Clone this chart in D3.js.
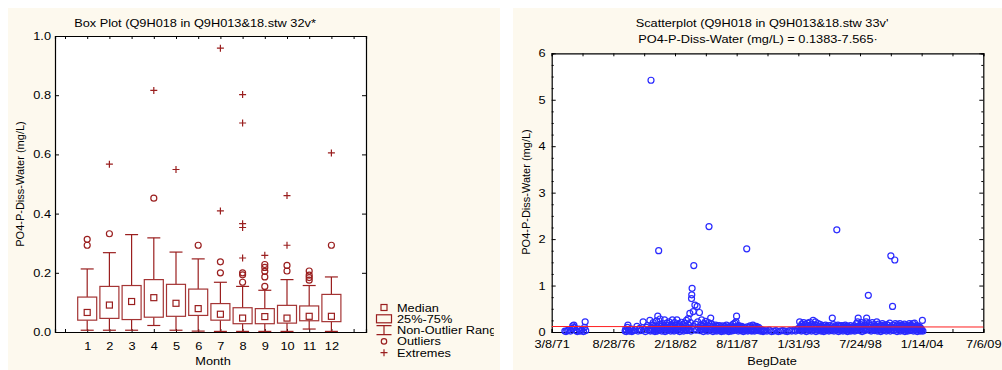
<!DOCTYPE html>
<html><head><meta charset="utf-8">
<script src="https://cdn.jsdelivr.net/npm/d3@7"></script>
<style>
html,body{margin:0;padding:0;background:#fff;}
svg{display:block;font-family:"Liberation Sans",Arial,sans-serif;}
</style></head><body>
<svg id="chart" width="1002" height="370"></svg>
<script>
// ---- Box plot: PO4-P dissolved (mg/L) by month ----
const months   = [1, 2, 3, 4, 5, 6, 7, 8, 9, 10, 11, 12];
const whiskLo  = [0.006, 0.006, 0.006, 0.022, 0.006, 0.003, 0.002, 0.002, 0.002, 0.002, 0.010, 0.002];
const q1       = [0.040, 0.046, 0.042, 0.050, 0.053, 0.056, 0.040, 0.028, 0.028, 0.030, 0.038, 0.035];
const medians  = [0.066, 0.091, 0.103, 0.116, 0.097, 0.079, 0.060, 0.047, 0.052, 0.047, 0.053, 0.053];
const q3       = [0.118, 0.154, 0.157, 0.177, 0.161, 0.145, 0.096, 0.082, 0.079, 0.090, 0.088, 0.127];
const whiskHi  = [0.213, 0.268, 0.329, 0.318, 0.270, 0.247, 0.168, 0.154, 0.141, 0.177, 0.157, 0.186];
const outliers = [[0.313, 0.293], [0.332], [], [0.452], [], [0.293], [0.237, 0.200],
                  [0.200, 0.193, 0.168], [0.228, 0.218, 0.205, 0.186, 0.154], [0.225, 0.206],
                  [0.206, 0.192, 0.184, 0.175], [0.293]];
const extremes = [[], [0.567], [], [0.816], [0.549], [], [0.409, 0.959],
                  [0.250, 0.366, 0.353, 0.802, 0.706], [0.259], [0.293, 0.461], [], [0.605]];
const boxYTicks = [0, 0.2, 0.4, 0.6, 0.8, 1.0];
const legendItems = ["Median", "25%-75%", "Non-Outlier Range", "Outliers", "Extremes"];

// ---- Scatterplot: PO4-P dissolved (mg/L) by sample date (decimal year, value) ----
const samples1970s = [
  [1972.35,0.02],[1972.45,0.01],[1972.6,0.03],[1972.7,0.05],[1972.85,0.02],[1973.0,0.08],[1973.05,0.13],
  [1973.15,0.15],[1973.2,0.10],[1973.35,0.03],[1973.45,0.01],[1973.6,0.06],[1973.7,0.02],[1973.85,0.04],
  [1974.0,0.01],[1974.1,0.10],[1974.15,0.22],[1974.2,0.03],
  [1977.7,0.02],[1977.75,0.06],[1977.8,0.01],[1977.9,0.10],[1977.95,0.15],[1978.0,0.04],[1978.1,0.02],
  [1978.2,0.07],[1978.3,0.01],[1978.45,0.03],[1978.6,0.05],[1978.75,0.12],[1978.85,0.02],[1979.0,0.08],
  [1979.1,0.03],[1979.3,0.22],[1979.4,0.05],[1979.5,0.01],[1979.6,0.10],[1979.7,0.14],[1979.8,0.04],
  [1979.9,0.25],[1979.95,0.02]
];
const samples1980s = [
  [1980.0,5.42],[1980.05,0.08],[1980.1,0.15],[1980.15,0.03],[1980.2,0.20],[1980.25,0.11],[1980.3,0.05],
  [1980.35,0.01],[1980.4,0.13],[1980.45,0.07],[1980.5,0.24],[1980.55,0.02],[1980.6,0.34],[1980.65,0.09],
  [1980.68,1.75],[1980.7,0.04],[1980.75,0.16],[1980.8,0.28],[1980.85,0.06],[1980.9,0.12],[1980.95,0.02],
  [1981.0,0.18],[1981.05,0.08],[1981.1,0.04],[1981.15,0.13],[1981.2,0.26],[1981.25,0.01],[1981.3,0.10],
  [1981.35,0.06],[1981.4,0.19],[1981.45,0.03],[1981.5,0.14],[1981.55,0.08],[1981.6,0.22],[1981.65,0.05],
  [1981.7,0.11],[1981.75,0.02],[1981.8,0.16],[1981.85,0.07],[1981.9,0.26],[1981.95,0.04],
  [1982.0,0.12],[1982.05,0.02],[1982.1,0.20],[1982.15,0.09],[1982.2,0.05],[1982.25,0.15],[1982.3,0.26],
  [1982.35,0.03],[1982.4,0.11],[1982.45,0.07],[1982.5,0.18],[1982.55,0.01],[1982.6,0.13],[1982.65,0.06],
  [1982.7,0.21],[1982.75,0.04],[1982.8,0.10],[1982.85,0.16],[1982.9,0.02],[1982.95,0.08],
  [1983.0,0.19],[1983.05,0.05],[1983.1,0.12],[1983.15,0.25],[1983.2,0.03],[1983.25,0.09],[1983.3,0.29],
  [1983.35,0.15],[1983.4,0.06],[1983.45,0.40],[1983.5,0.20],[1983.55,0.02],[1983.6,0.72],[1983.62,0.80],
  [1983.65,0.94],[1983.7,0.12],[1983.75,0.44],[1983.8,1.43],[1983.85,0.07],[1983.9,0.58],[1983.95,0.17],
  [1984.0,0.04],[1984.1,0.55],[1984.15,0.22],[1984.2,0.10],[1984.3,0.42],[1984.35,0.03],[1984.4,0.14],
  [1984.45,0.08],[1984.5,0.26],[1984.55,0.05],[1984.6,0.12],[1984.65,0.01],[1984.7,0.18],[1984.75,0.07],
  [1984.8,0.11],[1984.85,0.23],[1984.9,0.03],[1984.95,0.09],
  [1985.0,0.15],[1985.05,0.02],[1985.1,0.20],[1985.15,2.27],[1985.2,0.06],[1985.25,0.12],[1985.3,0.30],
  [1985.35,0.04],[1985.4,0.17],[1985.45,0.09],[1985.5,0.01],[1985.55,0.13],[1985.6,0.06],[1985.65,0.10],
  [1985.7,0.03],[1985.75,0.15],[1985.8,0.08],[1985.85,0.02],[1985.9,0.12],[1985.95,0.05],
  [1986.0,0.09],[1986.05,0.14],[1986.1,0.03],[1986.15,0.07],[1986.2,0.11],[1986.25,0.01],[1986.3,0.06],
  [1986.35,0.13],[1986.4,0.04],[1986.45,0.09],[1986.5,0.02],[1986.55,0.12],[1986.6,0.05],[1986.65,0.08],
  [1986.7,0.15],[1986.75,0.03],[1986.8,0.10],[1986.85,0.06],[1986.9,0.01],[1986.95,0.11],
  [1987.0,0.07],[1987.05,0.04],[1987.1,0.13],[1987.15,0.02],[1987.2,0.09],[1987.25,0.06],[1987.3,0.17],
  [1987.35,0.03],[1987.4,0.11],[1987.45,0.19],[1987.5,0.05],[1987.55,0.22],[1987.6,0.34],[1987.65,0.08],
  [1987.7,0.12],[1987.75,0.02],[1987.8,0.14],[1987.85,0.06],[1987.9,0.10],[1987.95,0.03],
  [1988.0,0.08],[1988.05,0.12],[1988.1,0.04],[1988.15,0.07],[1988.2,0.01],[1988.25,0.10],[1988.3,0.05],
  [1988.35,0.09],[1988.4,0.03],[1988.45,0.06],[1988.5,1.79],[1988.55,0.11],[1988.6,0.02],[1988.65,0.07],
  [1988.7,0.04],[1988.75,0.10],[1988.8,0.13],[1988.85,0.03],[1988.9,0.06],[1988.95,0.02],
  [1989.0,0.08],[1989.05,0.15],[1989.1,0.04],[1989.15,0.11],[1989.2,0.02],[1989.3,0.09],[1989.35,0.12],
  [1989.4,0.05],[1989.5,0.03],[1989.55,0.10],[1989.6,0.07],[1989.7,0.02],[1989.75,0.06],[1989.85,0.04],
  [1989.95,0.01]
];
const samples1990s = [
  [1990.1,0.03],[1990.3,0.02],[1990.5,0.04],[1990.7,0.01],[1990.9,0.02],[1991.1,0.03],[1991.3,0.01],
  [1991.5,0.02],[1991.7,0.03],[1991.9,0.02],[1992.1,0.01],[1992.3,0.03],[1992.5,0.02],[1992.7,0.04],
  [1992.85,0.02],[1993.0,0.05],
  [1993.1,0.08],[1993.2,0.22],[1993.25,0.04],[1993.3,0.12],[1993.35,0.02],[1993.4,0.17],[1993.45,0.06],
  [1993.5,0.10],[1993.55,0.20],[1993.6,0.03],[1993.65,0.13],[1993.7,0.07],[1993.75,0.16],[1993.8,0.01],
  [1993.85,0.11],[1993.9,0.19],[1993.95,0.05],
  [1994.0,0.14],[1994.05,0.03],[1994.1,0.21],[1994.15,0.08],[1994.2,0.12],[1994.25,0.02],[1994.3,0.17],
  [1994.35,0.06],[1994.4,0.25],[1994.45,0.10],[1994.5,0.04],[1994.55,0.15],[1994.6,0.22],[1994.65,0.01],
  [1994.7,0.09],[1994.75,0.13],[1994.8,0.05],[1994.85,0.18],[1994.9,0.03],[1994.95,0.11],
  [1995.0,0.07],[1995.05,0.16],[1995.1,0.02],[1995.15,0.12],[1995.2,0.05],[1995.25,0.09],[1995.3,0.14],
  [1995.35,0.01],[1995.4,0.10],[1995.45,0.04],[1995.5,0.15],[1995.55,0.07],[1995.6,0.03],[1995.65,0.12],
  [1995.7,0.06],[1995.75,0.10],[1995.8,0.02],[1995.85,0.14],[1995.9,0.08],[1995.95,0.04],
  [1996.0,0.11],[1996.05,0.03],[1996.1,0.30],[1996.15,0.07],[1996.2,0.16],[1996.25,0.02],[1996.3,0.10],
  [1996.35,0.05],[1996.4,0.13],[1996.45,0.08],[1996.5,2.20],[1996.55,0.04],[1996.6,0.15],[1996.65,0.01],
  [1996.7,0.09],[1996.75,0.12],[1996.8,0.06],[1996.85,0.03],[1996.9,0.14],[1996.95,0.07],
  [1997.0,0.10],[1997.05,0.02],[1997.1,0.13],[1997.15,0.05],[1997.2,0.08],[1997.25,0.15],[1997.3,0.03],
  [1997.35,0.11],[1997.4,0.06],[1997.45,0.01],[1997.5,0.12],[1997.55,0.07],[1997.6,0.04],[1997.65,0.10],
  [1997.7,0.14],[1997.75,0.02],[1997.8,0.09],[1997.85,0.05],[1997.9,0.11],[1997.95,0.03],
  [1998.0,0.08],[1998.05,0.13],[1998.1,0.02],[1998.15,0.10],[1998.2,0.06],[1998.25,0.18],[1998.3,0.04],
  [1998.35,0.22],[1998.4,0.30],[1998.45,0.09],[1998.5,0.12],[1998.55,0.03],[1998.6,0.16],[1998.65,0.07],
  [1998.7,0.20],[1998.75,0.01],[1998.8,0.11],[1998.85,0.05],[1998.9,0.14],[1998.95,0.08],
  [1999.0,0.03],[1999.05,0.15],[1999.1,0.22],[1999.15,0.30],[1999.2,0.06],[1999.25,0.12],[1999.3,0.79],
  [1999.35,0.18],[1999.4,0.04],[1999.45,0.10],[1999.5,0.14],[1999.55,0.02],[1999.6,0.08],[1999.65,0.20],
  [1999.7,0.05],[1999.75,0.11],[1999.8,0.16],[1999.85,0.03],[1999.9,0.09],[1999.95,0.13]
];
const samples2000s = [
  [2000.0,0.06],[2000.05,0.22],[2000.1,0.02],[2000.15,0.11],[2000.2,0.17],[2000.25,0.04],[2000.3,0.09],
  [2000.35,0.14],[2000.4,0.01],[2000.45,0.12],[2000.5,0.07],[2000.55,0.18],[2000.6,0.03],[2000.65,0.10],
  [2000.7,0.15],[2000.75,0.05],[2000.8,0.13],[2000.85,0.08],[2000.9,0.02],[2000.95,0.16],
  [2001.0,0.10],[2001.05,0.04],[2001.1,0.14],[2001.15,0.07],[2001.2,0.19],[2001.25,0.02],[2001.3,1.64],
  [2001.35,0.11],[2001.4,0.06],[2001.45,0.55],[2001.5,0.15],[2001.55,0.03],[2001.6,0.09],[2001.65,1.55],
  [2001.7,0.18],[2001.75,0.05],[2001.8,0.12],[2001.85,0.01],[2001.9,0.16],[2001.95,0.08],
  [2002.0,0.04],[2002.05,0.13],[2002.1,0.18],[2002.15,0.02],[2002.2,0.10],[2002.25,0.06],[2002.3,0.15],
  [2002.35,0.03],[2002.4,0.12],[2002.45,0.08],[2002.5,0.17],[2002.55,0.01],[2002.6,0.11],[2002.65,0.05],
  [2002.7,0.14],[2002.75,0.09],[2002.8,0.02],[2002.85,0.13],[2002.9,0.06],[2002.95,0.18],
  [2003.0,0.03],[2003.05,0.10],[2003.1,0.15],[2003.15,0.05],[2003.2,0.12],[2003.25,0.18],[2003.3,0.02],
  [2003.35,0.08],[2003.4,0.19],[2003.45,0.04],[2003.5,0.11],[2003.55,0.06],[2003.6,0.14],[2003.65,0.01],
  [2003.7,0.09],[2003.75,0.12],[2003.8,0.03],[2003.85,0.07],[2003.9,0.10],[2003.95,0.02],
  [2004.0,0.06],[2004.05,0.04],[2004.1,0.25],[2004.15,0.02]
];
// linear fit shown in the subtitle: value = intercept + slope * (days since 1899-12-30)
const fitIntercept = 0.1383;
const fitSlope = -7.565e-7;
const scatterYTicks = [0, 1, 2, 3, 4, 5, 6];

// ---- styling ----
const CREAM = "#fdf9ee";
const BOX_RED = "#9a1f1f";
const DOT_BLUE = "#2a2aff";
const FONT = 11;
const SX = 1.16; // horizontal text widening

const svg = d3.select("#chart");

function hText(g, x, y, str, anchor, size) {
  return g.append("text")
    .attr("transform", `translate(${x},${y}) scale(${SX},1)`)
    .attr("text-anchor", anchor || "middle")
    .attr("font-size", size || FONT)
    .attr("fill", "#000")
    .text(str);
}
function widenAxisText(axisG) {
  axisG.selectAll("text").attr("font-size", FONT).attr("fill", "#000").each(function () {
    const t = d3.select(this);
    const x = +t.attr("x") || 0, y = +t.attr("y") || 0;
    t.attr("x", null).attr("y", null)
     .attr("transform", `translate(${x},${y}) scale(${SX},1)`);
  });
  axisG.selectAll("line").attr("stroke", "#000");
  axisG.select(".domain").attr("stroke", "#000");
  axisG.attr("font-family", null);
}

// ================= Left panel: box plot =================
const L = { x0: 55, x1: 366, y0: 36, y1: 332 };
svg.append("defs").append("clipPath").attr("id", "leftClip")
  .append("rect").attr("x", 8).attr("y", 8).attr("width", 486).attr("height", 362);
const left = svg.append("g");
left.append("rect").attr("x", 8).attr("y", 8).attr("width", 492).attr("height", 362).attr("fill", CREAM);
left.append("rect").attr("x", L.x0).attr("y", L.y0).attr("width", L.x1 - L.x0).attr("height", L.y1 - L.y0).attr("fill", "#fff");

const xBox = d3.scaleLinear().domain([0, 13]).range([65, 353.6]);
const xBoxFull = d3.scaleLinear().domain([xBox.invert(L.x0), xBox.invert(L.x1)]).range([L.x0, L.x1]);
const yBox = d3.scaleLinear().domain([0, 1]).range([L.y1, L.y0]);
const monthTicks = d3.range(0, 14);

const axB = left.append("g").attr("transform", `translate(0,${L.y1})`)
  .call(d3.axisBottom(xBoxFull).tickValues(monthTicks).tickSize(-3).tickPadding(10)
    .tickFormat(d => (d >= 1 && d <= 12) ? d : ""));
widenAxisText(axB);
const axT = left.append("g").attr("transform", `translate(0,${L.y0})`)
  .call(d3.axisTop(xBoxFull).tickValues(monthTicks).tickSize(-3).tickFormat(""));
widenAxisText(axT);
const axL = left.append("g").attr("transform", `translate(${L.x0},0)`)
  .call(d3.axisLeft(yBox).tickValues(boxYTicks).tickSize(-4).tickPadding(4).tickFormat(d3.format(".1f")));
widenAxisText(axL);
const axR = left.append("g").attr("transform", `translate(${L.x1},0)`)
  .call(d3.axisRight(yBox).tickValues(boxYTicks).tickSize(-4).tickFormat(""));
widenAxisText(axR);
[axB, axT, axL, axR].forEach(a => a.select(".domain").attr("stroke-width", 1.2));

const halfBox = 9.5, halfCap = 6.5;
const boxes = left.append("g").selectAll("g").data(months).join("g");
boxes.append("line")
  .attr("x1", (m) => xBox(m)).attr("x2", (m) => xBox(m))
  .attr("y1", (m, i) => yBox(whiskLo[i])).attr("y2", (m, i) => yBox(q1[i]))
  .attr("stroke", BOX_RED).attr("stroke-width", 1.2);
boxes.append("line")
  .attr("x1", (m) => xBox(m)).attr("x2", (m) => xBox(m))
  .attr("y1", (m, i) => yBox(q3[i])).attr("y2", (m, i) => yBox(whiskHi[i]))
  .attr("stroke", BOX_RED).attr("stroke-width", 1.2);
[whiskLo, whiskHi].forEach(arr => {
  boxes.append("line")
    .attr("x1", (m) => xBox(m) - halfCap).attr("x2", (m) => xBox(m) + halfCap)
    .attr("y1", (m, i) => yBox(arr[i])).attr("y2", (m, i) => yBox(arr[i]))
    .attr("stroke", BOX_RED).attr("stroke-width", 1.2);
});
boxes.append("rect")
  .attr("x", (m) => xBox(m) - halfBox).attr("width", halfBox * 2)
  .attr("y", (m, i) => yBox(q3[i])).attr("height", (m, i) => yBox(q1[i]) - yBox(q3[i]))
  .attr("fill", "none").attr("stroke", "#a43434").attr("stroke-width", 1.2);
boxes.append("rect")
  .attr("x", (m) => xBox(m) - 3).attr("width", 6)
  .attr("y", (m, i) => yBox(medians[i]) - 3).attr("height", 6)
  .attr("fill", "none").attr("stroke", BOX_RED).attr("stroke-width", 1.2);

const outPts = months.flatMap((m, i) => outliers[i].map(v => ({ m, v })));
left.append("g").selectAll("circle").data(outPts).join("circle")
  .attr("cx", d => xBox(d.m)).attr("cy", d => yBox(d.v)).attr("r", 3)
  .attr("fill", "none").attr("stroke", BOX_RED).attr("stroke-width", 1.2);
const extPts = months.flatMap((m, i) => extremes[i].map(v => ({ m, v })));
left.append("g").selectAll("path").data(extPts).join("path")
  .attr("transform", d => `translate(${xBox(d.m)},${yBox(d.v)})`)
  .attr("d", "M-3.5,0H3.5M0,-3.5V3.5")
  .attr("fill", "none").attr("stroke", BOX_RED).attr("stroke-width", 1.2);

hText(left, 195, 27, "Box Plot (Q9H018 in Q9H013&18.stw 32v*");
hText(left, 213, 365, "Month");
left.append("text").attr("transform", `translate(24,184) rotate(-90)`)
  .attr("text-anchor", "middle").attr("font-size", FONT).text("PO4-P-Diss-Water (mg/L)");

// legend (text runs off the panel edge and is cut there)
const leg = left.append("g").attr("clip-path", "url(#leftClip)");
const legX = 384, legY0 = 307.5, legDy = 11.3;
legendItems.forEach((name, i) => {
  const cy = legY0 + i * legDy;
  hText(leg, legX + 13, cy + 4, name, "start");
  if (i === 0) leg.append("rect").attr("x", legX - 3).attr("y", cy - 3).attr("width", 6).attr("height", 6)
    .attr("fill", "none").attr("stroke", BOX_RED).attr("stroke-width", 1.2);
  if (i === 1) leg.append("rect").attr("x", legX - 7.5).attr("y", cy - 4).attr("width", 15).attr("height", 8)
    .attr("fill", "none").attr("stroke", BOX_RED).attr("stroke-width", 1.2);
  if (i === 2) leg.append("path").attr("d", `M${legX - 7.5},${cy - 4.5}H${legX + 7.5}M${legX},${cy - 4.5}V${cy + 4.5}M${legX - 7.5},${cy + 4.5}H${legX + 7.5}`)
    .attr("fill", "none").attr("stroke", BOX_RED).attr("stroke-width", 1.2);
  if (i === 3) leg.append("circle").attr("cx", legX).attr("cy", cy).attr("r", 2.7)
    .attr("fill", "none").attr("stroke", BOX_RED).attr("stroke-width", 1.2);
  if (i === 4) leg.append("path").attr("d", `M${legX - 3.5},${cy}H${legX + 3.5}M${legX},${cy - 3.5}V${cy + 3.5}`)
    .attr("fill", "none").attr("stroke", BOX_RED).attr("stroke-width", 1.2);
});

// ================= Right panel: scatterplot =================
const R = { x0: 551.7, x1: 983.3, y0: 53.3, y1: 332 };
const right = svg.append("g");
right.append("rect").attr("x", 513).attr("y", 8).attr("width", 489).attr("height", 362).attr("fill", CREAM);
right.append("rect").attr("x", R.x0).attr("y", R.y0).attr("width", R.x1 - R.x0).attr("height", R.y1 - R.y0).attr("fill", "#fff");

const tStart = new Date(Date.UTC(1971, 2, 8));
const tEnd = new Date(Date.UTC(2009, 6, 6));
const xT = d3.scaleUtc().domain([tStart, tEnd]).range([R.x0, R.x1]);
const yS = d3.scaleLinear().domain([0, 6]).range([R.y1, R.y0]);
const dateTicks = d3.range(0, 15).map(i => d3.utcDay.offset(tStart, i * 1000));
const fmtDate = d3.utcFormat("%-m/%-d/%y");

const sxB = right.append("g").attr("transform", `translate(0,${R.y1})`)
  .call(d3.axisBottom(xT).tickValues(dateTicks).tickSize(-3).tickPadding(8)
    .tickFormat((d, i) => i % 2 === 0 ? fmtDate(d) : ""));
widenAxisText(sxB);
const sxT = right.append("g").attr("transform", `translate(0,${R.y0})`)
  .call(d3.axisTop(xT).tickValues(dateTicks).tickSize(-3).tickFormat(""));
widenAxisText(sxT);
const minorY = d3.range(0, 6.001, 0.25);
const syL = right.append("g").attr("transform", `translate(${R.x0},0)`)
  .call(d3.axisLeft(yS).tickValues(minorY).tickSize(-2).tickPadding(6)
    .tickFormat(d => scatterYTicks.includes(d) ? d : ""));
widenAxisText(syL);
syL.selectAll(".tick line").filter(d => scatterYTicks.includes(d)).attr("x2", 4);
const syR = right.append("g").attr("transform", `translate(${R.x1},0)`)
  .call(d3.axisRight(yS).tickValues(minorY).tickSize(-2).tickFormat(""));
widenAxisText(syR);
syR.selectAll(".tick line").filter(d => scatterYTicks.includes(d)).attr("x2", -4);
[sxB, sxT, syL, syR].forEach(a => a.select(".domain").attr("stroke-width", 1.2));

function decYearToDate(v) {
  const y = Math.floor(v);
  const a = Date.UTC(y, 0, 1), b = Date.UTC(y + 1, 0, 1);
  return new Date(a + (v - y) * (b - a));
}
const samples = [...samples1970s, ...samples1980s, ...samples1990s, ...samples2000s]
  .map(([t, v]) => ({ date: decYearToDate(t), v }));
right.append("g").selectAll("circle").data(samples).join("circle")
  .attr("cx", d => xT(d.date)).attr("cy", d => yS(d.v)).attr("r", 3)
  .attr("fill", "none").attr("stroke", DOT_BLUE).attr("stroke-width", 1.2);

const serialBase = Date.UTC(1899, 11, 30);
const fitAt = d => fitIntercept + fitSlope * ((d - serialBase) / 86400000);
right.append("path")
  .datum([tStart, tEnd])
  .attr("d", d3.line().x(d => xT(d)).y(d => yS(fitAt(d))))
  .attr("stroke", "#ff2020").attr("stroke-width", 1.2).attr("fill", "none");

hText(right, 762, 27, "Scatterplot (Q9H018 in Q9H013&18.stw 33v'");
hText(right, 758, 42.5, "PO4-P-Diss-Water (mg/L) = 0.1383-7.565·");
hText(right, 772, 365, "BegDate");
right.append("text").attr("transform", `translate(530,192) rotate(-90)`)
  .attr("text-anchor", "middle").attr("font-size", FONT).text("PO4-P-Diss-Water (mg/L)");
</script>
</body></html>
